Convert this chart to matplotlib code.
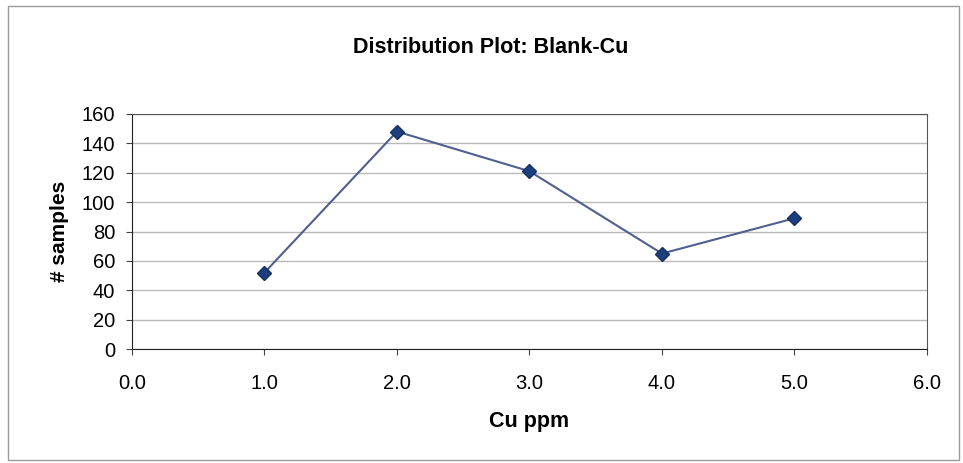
import matplotlib
matplotlib.use("Agg")
import matplotlib.pyplot as plt
from matplotlib.patches import Rectangle

# Data
cu_ppm = [1.0, 2.0, 3.0, 4.0, 5.0]
n_samples = [52, 148, 121, 65, 89]
x_ticks = [0.0, 1.0, 2.0, 3.0, 4.0, 5.0, 6.0]
y_ticks = [0, 20, 40, 60, 80, 100, 120, 140, 160]

plt.rcParams["font.family"] = ["Liberation Sans", "DejaVu Sans"]

fig = plt.figure(figsize=(9.63, 4.63), dpi=100)
ax = fig.add_axes([0.137, 0.246, 0.8256, 0.508])

# outer chart border
fig.patches.append(Rectangle((0.008, 0.006), 0.988, 0.982, transform=fig.transFigure,
                             fill=False, edgecolor="#9a9a9a", linewidth=1.0))

ax.plot(cu_ppm, n_samples, color="#4f5f8f", linewidth=1.5,
        marker="D", markersize=7, markerfacecolor="#1e3f7f", markeredgecolor="#15305f")

ax.set_xlim(0, 6)
ax.set_ylim(0, 160)
ax.set_xticks(x_ticks)
ax.set_xticklabels([f"{v:.1f}" for v in x_ticks])
ax.set_yticks(y_ticks)
ax.tick_params(labelsize=14.5, length=4, color="#444444")
ax.tick_params(axis="x", pad=14)
ax.tick_params(axis="y", pad=8)
ax.yaxis.grid(True, color="#b8b8b8", linewidth=1.0)
ax.set_axisbelow(True)
for side in ["left", "bottom"]:
    ax.spines[side].set_color("#222222")
for side in ["top", "right"]:
    ax.spines[side].set_color("#555555")

ax.set_xlabel("Cu ppm", fontsize=15.5, fontweight="bold", labelpad=13)
ax.set_ylabel("# samples", fontsize=15, fontweight="bold", labelpad=9)
fig.text(0.51, 0.897, "Distribution Plot: Blank-Cu", ha="center", va="center",
         fontsize=15.5, fontweight="bold")

fig.savefig("out.png", dpi=100)
